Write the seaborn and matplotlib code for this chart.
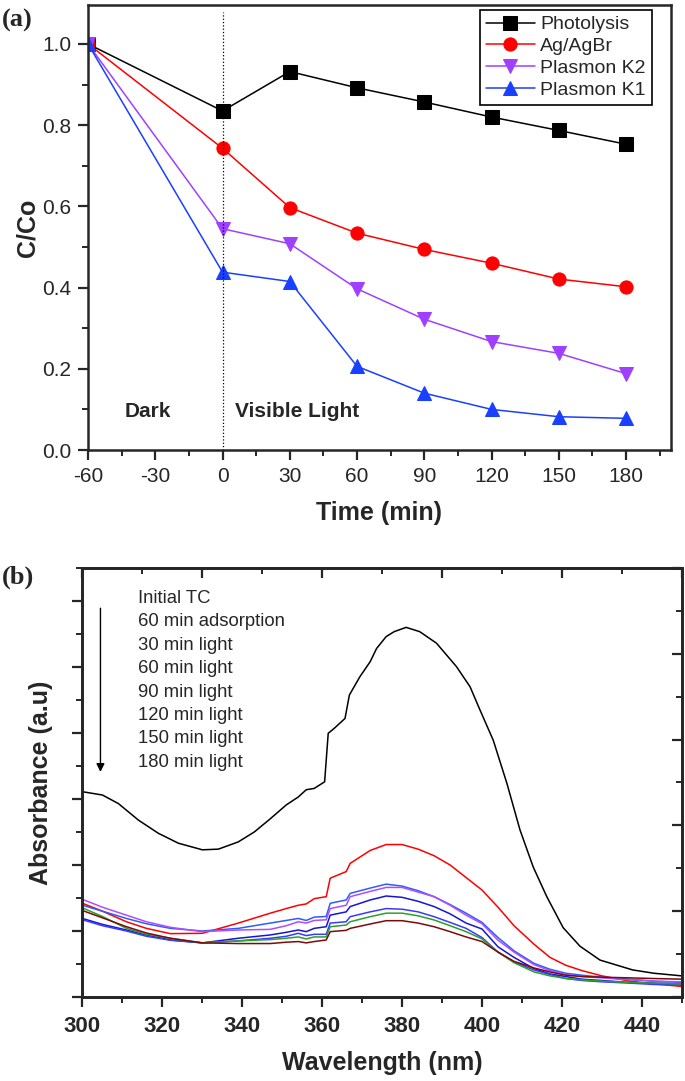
import numpy as np
import pandas as pd
import matplotlib
matplotlib.use("Agg")
import matplotlib.pyplot as plt
import seaborn as sns
from matplotlib.ticker import MultipleLocator, NullFormatter

# ---- panel (a): C/Co vs time ----
time_min = [-60, 0, 30, 60, 90, 120, 150, 180]
photolysis = [1.0, 0.835, 0.932, 0.892, 0.857, 0.820, 0.787, 0.753]
ag_agbr = [1.0, 0.743, 0.597, 0.534, 0.494, 0.460, 0.421, 0.402]
plasmon_k2 = [1.0, 0.545, 0.508, 0.397, 0.322, 0.267, 0.238, 0.188]
plasmon_k1 = [1.0, 0.438, 0.415, 0.206, 0.140, 0.100, 0.082, 0.078]

# ---- panel (b): absorbance spectra ----
wl_tc = [300, 305, 309, 314, 319, 324, 330, 334, 339, 343, 347, 351, 354, 356, 358,
         360.6, 361.5, 363, 365.7, 366.8, 369.4, 372, 373.6, 376, 378, 381, 384.4,
         388.6, 393.6, 397, 399.4, 402.8, 406.2, 409.5, 412.8, 416.2, 420.3, 424.5,
         429.5, 437.7, 443, 450]
initial_tc = [0.311, 0.306, 0.293, 0.268, 0.248, 0.233, 0.223, 0.224, 0.235, 0.250,
              0.270, 0.291, 0.303, 0.314, 0.316, 0.326, 0.3995, 0.407, 0.422, 0.4575,
              0.485, 0.508, 0.528, 0.546, 0.5535, 0.560, 0.5535, 0.536, 0.5005, 0.470,
              0.436, 0.389, 0.324, 0.253, 0.197, 0.152, 0.105, 0.077, 0.056, 0.041,
              0.036, 0.032]

wl = [300, 305, 311, 316, 322, 330, 339, 347, 351, 354, 356, 358, 361, 362, 366, 367,
      372, 376, 380, 384, 388, 392, 396, 400, 404, 408, 413, 417, 421, 425, 430, 437,
      443, 450]
ads_60 = [0.142, 0.130, 0.114, 0.104, 0.096, 0.0965, 0.112, 0.127, 0.134, 0.139, 0.141,
          0.149, 0.152, 0.180, 0.190, 0.2025, 0.222, 0.231, 0.231, 0.224, 0.214, 0.200,
          0.181, 0.162, 0.136, 0.108, 0.080, 0.060, 0.048, 0.040, 0.032, 0.024, 0.020,
          0.016]
light_30 = [0.139, 0.130, 0.119, 0.111, 0.104, 0.100, 0.104, 0.112, 0.116, 0.119, 0.116,
            0.121, 0.122, 0.142, 0.147, 0.157, 0.165, 0.171, 0.168, 0.161, 0.152, 0.140,
            0.127, 0.113, 0.090, 0.070, 0.051, 0.042, 0.036, 0.033, 0.030, 0.027, 0.024,
            0.022]
light_60 = [0.148, 0.136, 0.124, 0.114, 0.1056, 0.099, 0.1015, 0.1025, 0.108, 0.114,
            0.112, 0.116, 0.117, 0.134, 0.139, 0.152, 0.160, 0.166, 0.166, 0.159, 0.152,
            0.139, 0.124, 0.111, 0.086, 0.068, 0.049, 0.040, 0.034, 0.031, 0.029, 0.026,
            0.024, 0.023]
light_90 = [0.119, 0.110, 0.1015, 0.094, 0.0864, 0.082, 0.089, 0.094, 0.098, 0.1015,
            0.099, 0.104, 0.1065, 0.124, 0.129, 0.137, 0.147, 0.153, 0.151, 0.145, 0.137,
            0.126, 0.112, 0.103, 0.076, 0.060, 0.043, 0.035, 0.031, 0.027, 0.025, 0.022,
            0.021, 0.0197]
light_120 = [0.117, 0.108, 0.100, 0.092, 0.086, 0.082, 0.085, 0.089, 0.092, 0.0965,
             0.093, 0.095, 0.095, 0.112, 0.114, 0.1217, 0.129, 0.134, 0.133, 0.129,
             0.1217, 0.113, 0.104, 0.090, 0.068, 0.053, 0.041, 0.034, 0.028, 0.025,
             0.023, 0.021, 0.019, 0.018]
light_150 = [0.135, 0.122, 0.104, 0.095, 0.089, 0.082, 0.085, 0.087, 0.089, 0.091,
             0.088, 0.091, 0.091, 0.1065, 0.109, 0.114, 0.1217, 0.127, 0.127, 0.123,
             0.1167, 0.108, 0.099, 0.088, 0.068, 0.052, 0.038, 0.032, 0.028, 0.026,
             0.024, 0.022, 0.021, 0.0197]
light_180 = [0.131, 0.120, 0.1065, 0.097, 0.089, 0.082, 0.081, 0.081, 0.083, 0.084,
             0.082, 0.084, 0.0864, 0.099, 0.101, 0.104, 0.1106, 0.1156, 0.1156, 0.112,
             0.1065, 0.099, 0.091, 0.084, 0.068, 0.054, 0.044, 0.038, 0.033, 0.031,
             0.030, 0.029, 0.028, 0.027]

spectra_labels = ["Initial TC", "60 min adsorption", "30 min light", "60 min light",
                  "90 min light", "120 min light", "150 min light", "180 min light"]

sns.set_style("ticks")
plt.rcParams["font.family"] = ["Liberation Sans", "DejaVu Sans"]
plt.rcParams["axes.linewidth"] = 1.8
plt.rcParams["axes.unicode_minus"] = False

fig = plt.figure(figsize=(6.85, 10.81), dpi=100)

# ================= panel (a) =================
ax1 = fig.add_axes([0.1285, 0.5837, 0.851, 0.4117])
series_a = [
    (photolysis, "Photolysis", "black", "s"),
    (ag_agbr, "Ag/AgBr", "#ff0000", "o"),
    (plasmon_k2, "Plasmon K2", "#a040ff", "v"),
    (plasmon_k1, "Plasmon K1", "#1a40ff", "^"),
]
for vals, lab, col, mk in series_a:
    sns.lineplot(x=time_min, y=vals, ax=ax1, color=col, marker=mk, markersize=9.5,
                 markeredgecolor=col, linewidth=1.1, label=lab)

ax1.axvline(0, ymin=0, ymax=0.985, color="black", linestyle=":", linewidth=0.9)
ax1.set_xlim(-60, 200)
ax1.set_ylim(0, 1.096)
ax1.xaxis.set_minor_locator(MultipleLocator(15))
ax1.yaxis.set_minor_locator(MultipleLocator(0.1))
ax1.set_xticks([-60, -30, 0, 30, 60, 90, 120, 150, 180])
ax1.set_yticks([0.0, 0.2, 0.4, 0.6, 0.8, 1.0])
ax1.set_yticklabels(["0.0", "0.2", "0.4", "0.6", "0.8", "1.0"])
ax1.tick_params(which="major", direction="out", length=7, width=1.6, labelsize=15, pad=5)
ax1.tick_params(which="minor", direction="out", length=4, width=1.4)
ax1.set_xlabel("Time (min)", fontsize=18, fontweight="bold", labelpad=11)
ax1.set_ylabel("C/Co", fontsize=18, fontweight="bold", labelpad=2)

ax1.text(-43.5, 0.096, "Dark", fontsize=15, fontweight="bold", va="center", ha="left")
ax1.text(5.5, 0.096, "Visible Light", fontsize=15, fontweight="bold", va="center", ha="left")

leg = ax1.legend(loc="upper right", bbox_to_anchor=(0.967, 0.989), fontsize=14,
                 frameon=True, fancybox=False, edgecolor="black", borderaxespad=0,
                 handlelength=2.5, handletextpad=0.3, labelspacing=0.22, borderpad=0.3)
leg.get_frame().set_linewidth(1.2)
leg.get_frame().set_alpha(1)

fig.text(0.003, 0.981, "(a)", fontsize=19, fontweight="bold", va="center", ha="left",
         family=["Liberation Serif", "DejaVu Serif"])

# ================= panel (b) =================
ax2 = fig.add_axes([0.1204, 0.0777, 0.875, 0.3969])
colors_b = ["black", "#ff0000", "#2f5bff", "#b04cff", "#1515d8", "#3a3aff",
            "#2ca02c", "#7d0a0a"]
curves_b = [ads_60, light_30, light_60, light_90, light_120, light_150, light_180]

sns.lineplot(x=wl_tc, y=initial_tc, ax=ax2, color=colors_b[0], linewidth=1.1)
for vals, col in zip(curves_b, colors_b[1:]):
    sns.lineplot(x=wl, y=vals, ax=ax2, color=col, linewidth=1.1)

ax2.set_xlim(300, 450)
ax2.set_ylim(0, 0.65)
ax2.xaxis.set_major_locator(MultipleLocator(20))
ax2.xaxis.set_minor_locator(MultipleLocator(10))
ax2.yaxis.set_major_locator(MultipleLocator(0.1))
ax2.yaxis.set_minor_locator(MultipleLocator(0.05))
ax2.yaxis.set_major_formatter(NullFormatter())
ax2.tick_params(which="major", direction="out", length=7.5, width=1.6, labelsize=16, pad=6)
ax2.tick_params(which="minor", direction="out", length=4.5, width=1.4)
for t in ax2.get_xticklabels():
    t.set_fontweight("bold")
ax2.set_xlabel("Wavelength (nm)", fontsize=18, fontweight="bold", labelpad=10)
ax2.set_ylabel("Absorbance (a.u)", fontsize=18, fontweight="bold", labelpad=8)

# right and top tick sets of the frame
axr = ax2.twinx()
axr.set_ylim(0, 5)
axr.yaxis.set_major_locator(MultipleLocator(1))
axr.yaxis.set_minor_locator(MultipleLocator(0.5))
axr.yaxis.set_major_formatter(NullFormatter())
axr.tick_params(which="major", direction="in", length=7, width=1.6)
axr.tick_params(which="minor", direction="in", length=4, width=1.4)

axt = ax2.twiny()
axt.set_xlim(300, 450)
axt.xaxis.set_major_locator(MultipleLocator(30))
axt.xaxis.set_minor_locator(MultipleLocator(15))
axt.xaxis.set_major_formatter(NullFormatter())
axt.tick_params(which="major", direction="in", length=7, width=1.6)
axt.tick_params(which="minor", direction="in", length=4, width=1.4)

# arrow and labels list
ax2.annotate("", xy=(304.5, 0.341), xytext=(304.5, 0.589),
             arrowprops=dict(arrowstyle="-|>", color="black", lw=1.0,
                             mutation_scale=12, shrinkA=0, shrinkB=0))
y_txt = np.linspace(0.604, 0.3556, len(spectra_labels))
for lab, yy in zip(spectra_labels, y_txt):
    ax2.text(313.9, yy, lab, fontsize=13.3, va="center", ha="left")

fig.text(0.003, 0.466, "(b)", fontsize=19, fontweight="bold", va="center", ha="left",
         family=["Liberation Serif", "DejaVu Serif"])

fig.savefig("out.png", dpi=100)
